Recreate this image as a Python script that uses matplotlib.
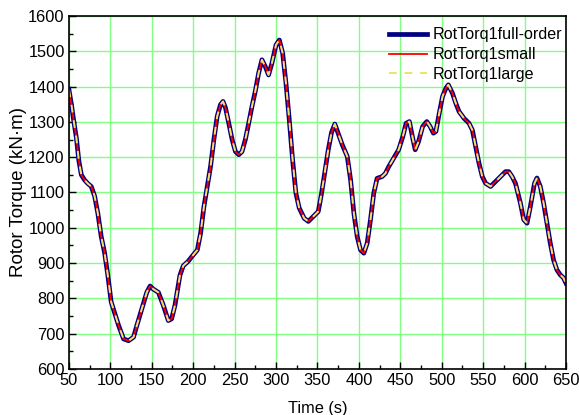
import numpy as np
import matplotlib.pyplot as plt

plt.rcParams['font.family'] = ['Liberation Sans', 'DejaVu Sans']

# values (time in s, torque in kN*m)
time = [50, 53, 56, 59, 62, 65, 69, 73, 77, 81, 85, 89, 93, 97, 101, 105,
        110, 116, 122, 128, 132, 138, 144, 148, 152, 158, 164, 170, 174,
        178, 184, 188, 194, 199, 205, 209, 213, 217, 221, 225, 229, 233,
        236, 239, 243, 247, 251, 255, 259, 263, 267, 271, 275, 279, 283,
        287, 291, 295, 300, 304, 308, 312, 316, 320, 324, 328, 334, 339,
        345, 351, 355, 359, 363, 367, 371, 375, 380, 386, 390, 394, 398,
        402, 406, 410, 414, 418, 422, 428, 432, 436, 442, 448, 453, 457,
        461, 465, 468, 472, 477, 482, 486, 490, 493, 497, 501, 505, 508,
        513, 517, 521, 527, 533, 537, 541, 545, 549, 553, 559, 565, 571,
        577, 581, 585, 589, 595, 599, 603, 607, 612, 615, 619, 623, 627,
        631, 635, 639, 643, 647, 650]
torque_full = [1392, 1350, 1300, 1255, 1190, 1150, 1135, 1125, 1117, 1090,
               1040, 975, 930, 865, 790, 760, 723, 685, 680, 690, 723, 770,
               817, 835, 826, 817, 780, 737, 742, 780, 865, 892, 905, 920,
               937, 985, 1060, 1117, 1174, 1250, 1316, 1349, 1358, 1340,
               1296, 1250, 1216, 1207, 1216, 1250, 1296, 1344, 1387, 1438,
               1476, 1457, 1433, 1466, 1518, 1532, 1495, 1410, 1306, 1193,
               1098, 1056, 1027, 1018, 1032, 1046, 1098, 1160, 1220, 1270,
               1294, 1268, 1235, 1202, 1136, 1041, 975, 937, 928, 956,
               1022, 1098, 1140, 1145, 1154, 1173, 1197, 1221, 1258, 1296,
               1301, 1254, 1221, 1244, 1287, 1301, 1287, 1268, 1273, 1324,
               1372, 1395, 1405, 1381, 1353, 1329, 1310, 1296, 1277, 1230,
               1183, 1145, 1126, 1117, 1131, 1145, 1159, 1159, 1145, 1126,
               1070, 1023, 1013, 1060, 1126, 1141, 1117, 1070, 1013, 957,
               909, 881, 867, 858, 843]
torque_small = torque_full
torque_large = torque_full

fig = plt.figure(figsize=(5.79, 4.15), dpi=100)
ax = fig.add_axes([0.119, 0.111, 0.8585, 0.8504])

ax.plot(time, torque_full, color='#000080', lw=3.4, label='RotTorq1full-order')
ax.plot(time, torque_small, color='#ff0000', lw=1.3, label='RotTorq1small')
ax.plot(time, torque_large, color='#f0e070', lw=1.4, ls=(0, (4, 4)),
        label='RotTorq1large')

ax.set_xlim(50, 650)
ax.set_ylim(600, 1600)
ax.set_xticks(np.arange(50, 651, 50))
ax.set_xticks(np.arange(75, 650, 50), minor=True)
ax.set_yticks(np.arange(600, 1601, 100))
ax.set_yticks(np.arange(650, 1600, 100), minor=True)
ax.grid(True, which='major', color='#80ff80', lw=1)
ax.set_axisbelow(True)
ax.tick_params(which='both', direction='in', top=False, right=False,
               labelsize=11.8, width=1)
ax.tick_params(which='major', length=5, pad=3)
ax.tick_params(which='minor', length=3)
for s in ax.spines.values():
    s.set_linewidth(1.2)

ax.set_xlabel('Time (s)', fontsize=11.8, labelpad=9)
ax.set_ylabel('Rotor Torque (kN·m)', fontsize=13.5, labelpad=1)

ax.legend(loc='upper right', bbox_to_anchor=(0.998, 0.977), frameon=False,
          fontsize=11.6, handlelength=2.35, handletextpad=0.3,
          labelspacing=0.3, borderpad=0.2, borderaxespad=0)

fig.savefig('out.png', dpi=100)
